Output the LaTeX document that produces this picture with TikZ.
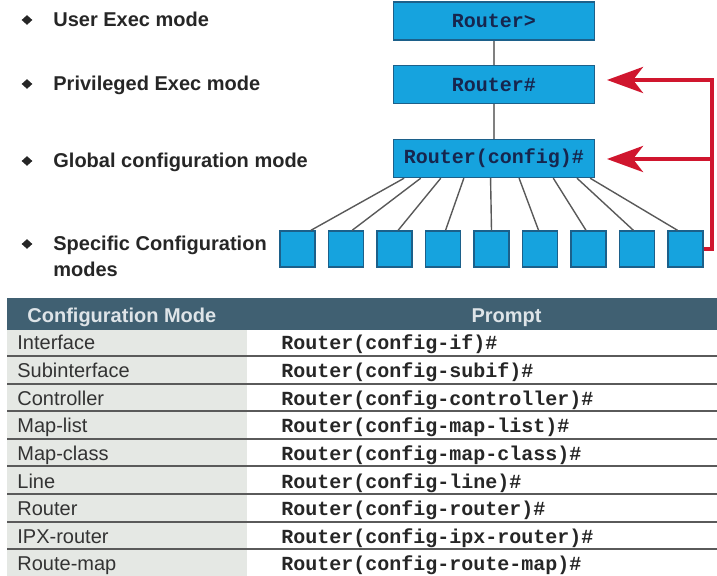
\documentclass[tikz,border=0pt]{standalone}
\usepackage{fontspec}
\setmainfont{Liberation Sans}
\setmonofont{Liberation Mono}
\usetikzlibrary{arrows.meta, shapes.geometric, calc}
\definecolor{modeblue}{RGB}{22,163,222}
\definecolor{modeedge}{RGB}{28,96,138}
\definecolor{promptnavy}{RGB}{22,38,78}
\definecolor{backred}{RGB}{208,22,46}
\definecolor{headslate}{RGB}{64,96,114}
\definecolor{headtext}{RGB}{222,228,232}
\definecolor{colgray}{RGB}{229,232,228}
\definecolor{rulegray}{RGB}{90,90,90}

\begin{document}
\begin{tikzpicture}[x=0.5pt, y=-0.5pt, font=\fontsize{10}{13}\selectfont,
  modebox/.style={draw=modeedge, fill=modeblue, line width=0.7pt, minimum width=100.5pt,
    minimum height=19pt, inner sep=0pt, text=promptnavy, font=\fontsize{10}{12}\selectfont\ttfamily\bfseries},
  subbox/.style={draw=modeedge, fill=modeblue, line width=0.7pt, minimum width=17.5pt,
    minimum height=18pt, inner sep=0pt},
  modelabel/.style={anchor=base west, inner sep=0pt, align=left, text=black!85,
    font=\fontsize{10}{13}\selectfont\bfseries},
  bulletmark/.style={diamond, fill=black!85, inner sep=0pt, minimum width=5.5pt, minimum height=5pt},
  stemline/.style={draw=black!50, line width=1pt},
  fanline/.style={draw=black!65, line width=0.7pt},
  backarrow/.style={draw=backred, line width=2.2pt, line join=miter,
    -{Stealth[length=18pt, width=13pt, inset=5pt]}},
  headcell/.style={anchor=base west, inner sep=0pt, text=headtext, font=\fontsize{10}{12}\selectfont\bfseries},
  cellmode/.style={anchor=base west, inner sep=0pt, text=black!80},
  cellprompt/.style={anchor=base west, inner sep=0pt, text=black!85, font=\fontsize{10}{12}\selectfont\ttfamily\bfseries},
  rowrule/.style={draw=rulegray, line width=1pt}]
\useasboundingbox (0,0) rectangle (717,576);

% mode boxes
\node[modebox] (user) at (494,21) {Router>};
\node[modebox] (priv) at (494,84.5) {Router\#};
\node[modebox] (cfg) at (494,158.5) {Router(config)\#};
\draw[stemline] (user) -- (priv);
\draw[stemline] (priv) -- (cfg);

% specific configuration boxes
\foreach \k in {1,...,9}
  \node[subbox] (sub\k) at ({297.5+48.5*(\k-1)},249) {};
\foreach \k/\f/\e in {1/0.056/0.87, 2/0.138/0.67, 3/0.237/0.6, 4/0.351/0.57, 5/0.483/0.5,
    6/0.624/0.46, 7/0.793/0.43, 8/0.910/0.4, 9/0.975/0.28}
  \draw[fanline] ($(cfg.south west)!\f!(cfg.south east)$) -- ($(sub\k.north west)!\e!(sub\k.north east)$);

% return arrows
\coordinate (railtop) at (712,80);
\coordinate (railmid) at (712,159);
\coordinate (privtip) at (607,80);
\coordinate (cfgtip) at (607,159);
\draw[backarrow] (sub9.east) -| (railtop) -- (privtip);
\draw[backarrow] (railmid) -- (cfgtip);

% left labels
\node[bulletmark] (b1) at (27,20) {};
\node[modelabel] (l1) at (53,27) {User Exec mode};
\node[bulletmark] (b2) at (27,84) {};
\node[modelabel] (l2) at (53,91) {Privileged Exec mode};
\node[bulletmark] (b3) at (27,161) {};
\node[modelabel] (l3) at (53,168) {Global configuration mode};
\node[bulletmark] (b4) at (27,244) {};
\node[modelabel] (l4) at (53,277) {Specific Configuration\\modes};

% table
\fill[headslate] (7,298) rectangle (717,330);
\fill[colgray] (7,330) rectangle (247,576);
\node[headcell] (headmode) at (27,323) {Configuration Mode};
\node[headcell, anchor=base] (headprompt) at (506.5,323) {Prompt};
\foreach \mode/\prompt [count=\r from 0] in {Interface/if, Subinterface/subif,
    Controller/controller, Map-list/map-list, Map-class/map-class, Line/line,
    Router/router, IPX-router/ipx-router, Route-map/route-map} {
  \node[cellmode] (mode\r) at (17,350+27.6*\r) {\mode};
  \node[cellprompt] (prompt\r) at (281,350+27.6*\r) {Router(config-\prompt)\#};
}
\foreach \r in {0,...,7}
  \draw[rowrule] (7,356+27.6*\r) -- (717,356+27.6*\r);
\end{tikzpicture}
\end{document}
